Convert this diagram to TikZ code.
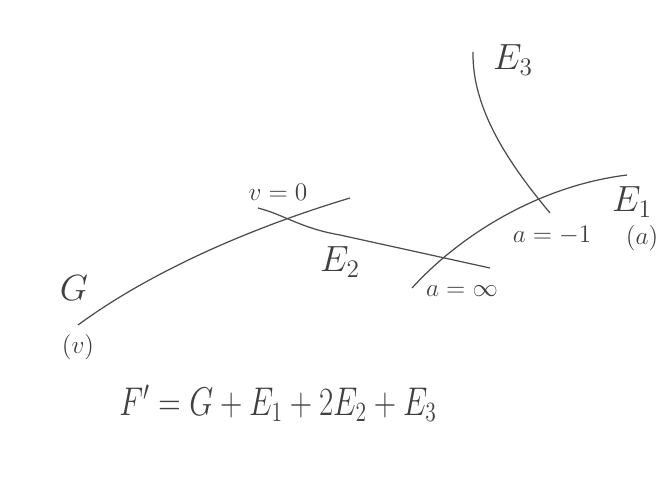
\documentclass[tikz,border=0pt]{standalone}
\usepackage{amsmath}
\usetikzlibrary{positioning}
\tikzset{
  curve/.style={draw=black!70, line width=0.7pt},
  biglab/.style={font=\huge, text=black!75},
  smalllab/.style={font=\Large, text=black!75}
}
\begin{document}
\begin{tikzpicture}[x=0.02cm, y=-0.02cm]
  \useasboundingbox[fill=white] (0,0) rectangle (671,479);
  % the four curves
  \draw[curve] (78,325) .. controls (150,272) and (250,228) .. (350,198);
  \draw[curve] (258,208) .. controls (285,215) and (300,228) .. (340,235) -- (490,268);
  \draw[curve] (412,288) .. controls (465,230) and (545,185) .. (627,175);
  \draw[curve] (473,52) .. controls (472,110) and (510,165) .. (550,213);
  % labels
  \node[biglab] (G) at (74,288) {$G$};
  \node[smalllab] (Gv) at (78,347) {$(v)$};
  \node[smalllab] (vzero) at (278,192) {$v=0$};
  \node[biglab] (E2) at (340,262) {$E_2$};
  \node[smalllab] (ainf) at (462,291) {$a=\infty$};
  \node[biglab] (E3) at (513,60) {$E_3$};
  \node[biglab] (E1) at (632,202) {$E_1$};
  \node[smalllab] (Ea) at (642,238) {$(a)$};
  \node[smalllab] (amone) at (552,235) {$a=-1$};
  \node[biglab, xscale=0.85, yscale=1.1] (Fsum) at (278,403) {$F' = G + E_1 + 2E_2 + E_3$};
\end{tikzpicture}
\end{document}
